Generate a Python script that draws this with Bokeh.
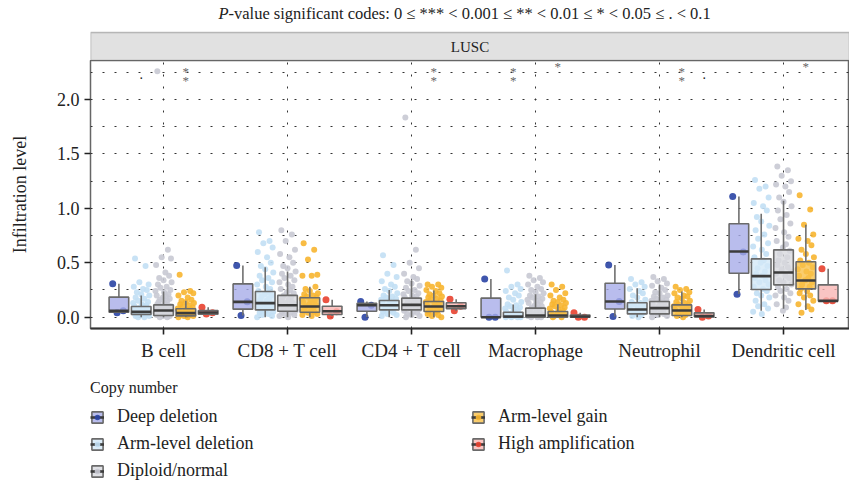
import math
from bokeh.plotting import figure
from bokeh.layouts import column
from bokeh.models import FixedTicker, Label, Legend, LegendItem, ColumnDataSource, BoxAnnotation
from bokeh.embed import file_html
from bokeh.resources import INLINE
from bokeh.core.properties import value

categories = ["B cell", "CD8 + T cell", "CD4 + T cell", "Macrophage", "Neutrophil", "Dendritic cell"]
groups = ["Deep deletion", "Arm-level deletion", "Diploid/normal", "Arm-level gain", "High amplification"]

# box statistics per category: (q1, median, q3, lower whisker, upper whisker)
box_deep = [(0.046, 0.058, 0.184, 0.040, 0.307), (0.074, 0.141, 0.306, 0.015, 0.475),
            (0.055, 0.110, 0.127, 0.000, 0.144), (0.000, 0.000, 0.175, 0.000, 0.350),
            (0.075, 0.144, 0.312, 0.006, 0.480), (0.404, 0.603, 0.858, 0.214, 1.110)]
box_armdel = [(0.025, 0.049, 0.098, 0.0, 0.200), (0.067, 0.129, 0.236, 0.0, 0.460),
              (0.067, 0.110, 0.153, 0.0, 0.250), (0.000, 0.006, 0.046, 0.0, 0.116),
              (0.030, 0.070, 0.132, 0.0, 0.267), (0.254, 0.377, 0.536, 0.060, 0.950)]
box_diploid = [(0.015, 0.061, 0.113, 0.0, 0.236), (0.055, 0.110, 0.200, 0.0, 0.420),
               (0.067, 0.113, 0.175, 0.0, 0.337), (0.000, 0.015, 0.083, 0.0, 0.210),
               (0.030, 0.083, 0.144, 0.0, 0.300), (0.297, 0.410, 0.619, 0.077, 1.070)]
box_armgain = [(0.012, 0.037, 0.077, 0.0, 0.150), (0.046, 0.098, 0.178, 0.0, 0.280),
               (0.052, 0.098, 0.144, 0.0, 0.245), (0.000, 0.015, 0.052, 0.0, 0.120),
               (0.015, 0.061, 0.113, 0.0, 0.236), (0.260, 0.337, 0.510, 0.067, 0.850)]
box_highamp = [(0.028, 0.043, 0.061, 0.030, 0.092), (0.025, 0.055, 0.100, 0.010, 0.160),
               (0.079, 0.100, 0.132, 0.058, 0.165), (0.000, 0.006, 0.020, 0.000, 0.040),
               (0.005, 0.010, 0.040, 0.000, 0.070), (0.148, 0.150, 0.297, 0.150, 0.445)]

# individual sample values per category
pts_deep = [[0.307, 0.058, 0.040], [0.475, 0.141, 0.015], [0.144, 0.110, 0.000],
            [0.350, 0.000, 0.000], [0.480, 0.144, 0.006], [1.110, 0.600, 0.210]]
pts_armdel = [
    [0.54, 0.47, 0.32, 0.30, 0.28, 0.26, 0.25, 0.23, 0.21, 0.20, 0.18, 0.17, 0.15, 0.14, 0.13, 0.12, 0.11, 0.10, 0.10,
     0.09, 0.08, 0.08, 0.07, 0.07, 0.06, 0.06, 0.05, 0.05, 0.04, 0.04, 0.03, 0.03, 0.02, 0.02, 0.01, 0.01, 0.0, 0.0],
    [0.78, 0.70, 0.68, 0.64, 0.60, 0.55, 0.50, 0.47, 0.44, 0.41, 0.38, 0.36, 0.34, 0.32, 0.30, 0.28, 0.26, 0.24, 0.23,
     0.21, 0.20, 0.19, 0.17, 0.16, 0.15, 0.14, 0.13, 0.12, 0.11, 0.10, 0.09, 0.08, 0.07, 0.06, 0.05, 0.04, 0.03, 0.02, 0.01, 0.0],
    [0.57, 0.48, 0.40, 0.37, 0.33, 0.30, 0.28, 0.26, 0.24, 0.22, 0.20, 0.19, 0.18, 0.17, 0.16, 0.15, 0.14, 0.13, 0.12,
     0.11, 0.10, 0.09, 0.08, 0.07, 0.06, 0.05, 0.04, 0.03, 0.02, 0.01],
    [0.43, 0.30, 0.28, 0.26, 0.24, 0.22, 0.20, 0.18, 0.16, 0.14, 0.12, 0.11, 0.10, 0.09, 0.08, 0.07, 0.06, 0.05, 0.04,
     0.04, 0.03, 0.03, 0.02, 0.02, 0.01, 0.01, 0.0, 0.0, 0.0, 0.0],
    [0.35, 0.32, 0.30, 0.28, 0.26, 0.24, 0.22, 0.20, 0.18, 0.16, 0.14, 0.13, 0.12, 0.11, 0.10, 0.09, 0.08, 0.07, 0.06,
     0.05, 0.04, 0.03, 0.02, 0.01, 0.0],
    [1.26, 1.20, 1.18, 1.10, 1.05, 1.02, 0.98, 0.92, 0.88, 0.84, 0.80, 0.76, 0.72, 0.68, 0.65, 0.62, 0.58, 0.55, 0.52,
     0.50, 0.47, 0.45, 0.42, 0.40, 0.38, 0.36, 0.34, 0.32, 0.30, 0.28, 0.26, 0.24, 0.22, 0.20, 0.18, 0.15, 0.12, 0.10, 0.08, 0.05, 0.03],
]
pts_diploid = [
    [2.26, 0.62, 0.55, 0.54, 0.48, 0.41, 0.38, 0.36, 0.34, 0.32, 0.30, 0.28, 0.27, 0.25, 0.24, 0.23, 0.21, 0.20, 0.19,
     0.18, 0.17, 0.16, 0.15, 0.14, 0.13, 0.12, 0.11, 0.10, 0.10, 0.09, 0.08, 0.08, 0.07, 0.07, 0.06, 0.06, 0.05, 0.05,
     0.04, 0.04, 0.03, 0.03, 0.02, 0.02, 0.01, 0.01, 0.0, 0.0],
    [0.80, 0.76, 0.70, 0.62, 0.58, 0.55, 0.50, 0.47, 0.45, 0.42, 0.40, 0.38, 0.36, 0.34, 0.32, 0.30, 0.28, 0.26, 0.25,
     0.23, 0.22, 0.20, 0.19, 0.18, 0.16, 0.15, 0.14, 0.13, 0.12, 0.11, 0.10, 0.09, 0.08, 0.07, 0.06, 0.05, 0.04, 0.03, 0.02, 0.01, 0.0],
    [1.835, 0.62, 0.50, 0.45, 0.40, 0.37, 0.35, 0.33, 0.31, 0.29, 0.27, 0.25, 0.24, 0.22, 0.21, 0.20, 0.19, 0.18, 0.17,
     0.16, 0.15, 0.14, 0.13, 0.12, 0.11, 0.10, 0.09, 0.08, 0.07, 0.06, 0.05, 0.04, 0.03, 0.02, 0.01, 0.0],
    [0.38, 0.36, 0.34, 0.32, 0.30, 0.28, 0.26, 0.25, 0.23, 0.22, 0.20, 0.19, 0.18, 0.17, 0.16, 0.15, 0.14, 0.13, 0.12,
     0.11, 0.10, 0.09, 0.08, 0.07, 0.06, 0.05, 0.04, 0.03, 0.02, 0.01, 0.0, 0.0, 0.0],
    [0.37, 0.35, 0.33, 0.31, 0.29, 0.27, 0.25, 0.23, 0.22, 0.20, 0.19, 0.18, 0.17, 0.16, 0.15, 0.14, 0.13, 0.12, 0.11,
     0.10, 0.09, 0.08, 0.07, 0.06, 0.05, 0.04, 0.03, 0.02, 0.01, 0.0],
    [1.385, 1.35, 1.30, 1.25, 1.22, 1.20, 1.15, 1.10, 1.06, 1.02, 0.98, 0.94, 0.90, 0.86, 0.82, 0.78, 0.74, 0.70, 0.67,
     0.64, 0.61, 0.58, 0.55, 0.52, 0.50, 0.48, 0.46, 0.44, 0.42, 0.40, 0.38, 0.36, 0.34, 0.32, 0.30, 0.28, 0.26, 0.24,
     0.22, 0.20, 0.18, 0.15, 0.12, 0.09, 0.06],
]
pts_armgain = [
    [0.39, 0.24, 0.23, 0.22, 0.20, 0.18, 0.16, 0.15, 0.14, 0.13, 0.12, 0.11, 0.10, 0.09, 0.08, 0.07, 0.07, 0.06, 0.06,
     0.05, 0.05, 0.04, 0.04, 0.03, 0.03, 0.02, 0.02, 0.01, 0.01, 0.0, 0.0],
    [0.68, 0.62, 0.53, 0.39, 0.38, 0.38, 0.28, 0.26, 0.24, 0.22, 0.21, 0.20, 0.19, 0.18, 0.17, 0.16, 0.15, 0.14, 0.13,
     0.12, 0.11, 0.10, 0.09, 0.08, 0.07, 0.06, 0.05, 0.04, 0.03, 0.02, 0.01],
    [0.30, 0.30, 0.28, 0.27, 0.25, 0.24, 0.22, 0.21, 0.20, 0.19, 0.18, 0.17, 0.16, 0.15, 0.14, 0.13, 0.12, 0.11, 0.10,
     0.09, 0.08, 0.07, 0.06, 0.05, 0.04, 0.03, 0.02, 0.01, 0.0],
    [0.30, 0.28, 0.25, 0.22, 0.20, 0.18, 0.16, 0.15, 0.14, 0.13, 0.12, 0.11, 0.10, 0.09, 0.08, 0.07, 0.06, 0.05, 0.04,
     0.03, 0.02, 0.01, 0.0, 0.0],
    [0.28, 0.26, 0.25, 0.23, 0.22, 0.20, 0.19, 0.18, 0.17, 0.15, 0.14, 0.13, 0.12, 0.11, 0.10, 0.09, 0.08, 0.07, 0.06,
     0.05, 0.04, 0.03, 0.02, 0.01, 0.0],
    [1.12, 0.99, 0.85, 0.76, 0.72, 0.70, 0.66, 0.62, 0.58, 0.55, 0.52, 0.50, 0.48, 0.46, 0.44, 0.42, 0.40, 0.38, 0.36,
     0.34, 0.32, 0.30, 0.28, 0.26, 0.24, 0.22, 0.20, 0.18, 0.15, 0.12, 0.10, 0.07, 0.04],
]
pts_highamp = [[0.092, 0.040, 0.030], [0.160, 0.050, 0.010], [0.165, 0.100, 0.058],
               [0.040, 0.000, 0.000], [0.070, 0.010, 0.000], [0.445, 0.150, 0.150]]

# significance codes (category, group, code)
sig_category = ["B cell", "B cell", "CD4 + T cell", "Macrophage", "Macrophage", "Neutrophil", "Neutrophil", "Dendritic cell"]
sig_group = ["Arm-level deletion", "Arm-level gain", "Arm-level gain", "Arm-level deletion", "Arm-level gain",
             "Arm-level gain", "High amplification", "Arm-level gain"]
sig_code = [".", "**", "**", "**", "*", "**", ".", "*"]

# ---------------- styling ----------------
FONT = "Liberation Serif"
box_stats = [box_deep, box_armdel, box_diploid, box_armgain, box_highamp]
points = [pts_deep, pts_armdel, pts_diploid, pts_armgain, pts_highamp]
fill_colors = ["#a7ace9", "#d3e9f8", "#d8d9df", "#f8c04a", "#f9b7b4"]
point_colors = ["#2a44a4", "#c2dff4", "#c8c9d3", "#f7b530", "#e8412f"]
point_sizes = [7, 6, 6, 6, 7]
dodge = [-0.36, -0.18, 0.0, 0.18, 0.36]
half_w = 0.079
JITTER = [-0.05, 0.035, -0.015, 0.06, -0.06, 0.015, 0.045, -0.035, 0.0, 0.065, -0.045, 0.025,
          -0.025, 0.055, -0.065, 0.005, 0.04, -0.055, 0.02, -0.005, 0.05, -0.03, 0.03, -0.04, 0.01]
X0, X1 = 0.411, 6.532
BOX_LINE = dict(line_color="#6a6a6a", line_width=1.6)
MED_LINE = dict(line_color="#3c3c3c", line_width=2.6)
W = 849

# ---- header: page title + strip ----
h = figure(width=W, height=60, x_range=(X0, X1), y_range=(0, 60), output_backend="svg",
           toolbar_location=None, x_axis_location=None, y_axis_location=None,
           min_border_left=90, min_border_right=0, min_border_top=0, min_border_bottom=0)
h.grid.visible = False
h.background_fill_color = "white"
h.border_fill_color = "white"
h.outline_line_color = None
h.add_layout(BoxAnnotation(bottom=0, top=28, fill_color="#e1e1e1", fill_alpha=1.0,
                           line_color="#333333", line_width=1.5))
h.add_layout(Label(x=(X0 + X1) / 2, y=14, text="LUSC", text_font=FONT, text_font_size="15px",
                   text_color="#222222", text_align="center", text_baseline="middle"))
h.add_layout(Label(x=128, y=47, x_units="screen", y_units="data", text="P", text_font=FONT,
                   text_font_style="italic", text_font_size="16.5px", text_color="#222222",
                   text_align="left", text_baseline="middle"))
h.add_layout(Label(x=138, y=47, x_units="screen", y_units="data",
                   text="-value significant codes: 0 \u2264 *** < 0.001 \u2264 ** < 0.01 \u2264 * < 0.05 \u2264 . < 0.1",
                   text_font=FONT, text_font_size="16.5px", text_color="#222222",
                   text_align="left", text_baseline="middle"))

# ---- main panel ----
p = figure(width=W, height=305, x_range=(X0, X1), y_range=(-0.104, 2.359),
           output_backend="svg", toolbar_location=None,
           min_border_left=90, min_border_right=0, min_border_top=0, min_border_bottom=37)
p.background_fill_color = "white"
p.border_fill_color = "white"
p.outline_line_color = "#666666"
p.outline_line_width = 1.5

cat_pos = {c: i + 1 for i, c in enumerate(categories)}

# points first (under the boxes)
for g in range(len(groups)):
    xs, ys = [], []
    for ci, vals in enumerate(points[g]):
        for k, v in enumerate(vals):
            xs.append(ci + 1 + dodge[g] + JITTER[k % len(JITTER)])
            ys.append(v)
    p.scatter(xs, ys, size=point_sizes[g], color=point_colors[g], alpha=0.9, line_alpha=0)

for g in range(len(groups)):
    st = box_stats[g]
    x = [ci + 1 + dodge[g] for ci in range(len(categories))]
    src = ColumnDataSource(dict(
        x=x, left=[v - half_w for v in x], right=[v + half_w for v in x],
        q1=[s[0] for s in st], med=[s[1] for s in st], q3=[s[2] for s in st],
        lo=[s[3] for s in st], hi=[s[4] for s in st]))
    p.segment("x", "q3", "x", "hi", source=src, line_color="#707070", line_width=1.6)
    p.segment("x", "lo", "x", "q1", source=src, line_color="#707070", line_width=1.6)
    p.quad(left="left", right="right", bottom="q1", top="q3", source=src,
           fill_color=fill_colors[g], fill_alpha=0.8, **BOX_LINE)
    p.segment("left", "med", "right", "med", source=src, **MED_LINE)

# significance marks
star_x, star_y, star_t = [], [], []
dot_x, dot_y = [], []
for c, g, code in zip(sig_category, sig_group, sig_code):
    xx = cat_pos[c] + dodge[groups.index(g)]
    if code == ".":
        dot_x.append(xx); dot_y.append(2.232)
    elif code == "*":
        star_x.append(xx); star_y.append(2.30); star_t.append("*")
    else:
        for yy in (2.258, 2.175):
            star_x.append(xx); star_y.append(yy); star_t.append("*")
p.text(star_x, star_y, text=star_t, text_font=value(FONT), text_font_size="13px",
       text_color="#666666", text_align="center", text_baseline="middle")
p.text(dot_x, dot_y, text=["."] * len(dot_x), text_font=value(FONT), text_font_size="14px",
       text_color="#222222", text_align="center", text_baseline="alphabetic")

# axes
xt = FixedTicker(ticks=[i + 1 for i in range(len(categories))])
p.xaxis.ticker = xt
p.xaxis.major_label_overrides = {i + 1: c for i, c in enumerate(categories)}
yt = FixedTicker(ticks=[0, 0.5, 1.0, 1.5, 2.0], minor_ticks=[0.25, 0.75, 1.25, 1.75, 2.25])
p.yaxis.ticker = yt
p.yaxis.major_label_overrides = {0: "0.0", 0.5: "0.5", 1: "1.0", 1.5: "1.5", 2: "2.0"}
for ax in (p.xaxis[0], p.yaxis[0]):
    ax.major_label_text_font = FONT
    ax.major_label_text_color = "#222222"
    ax.major_tick_line_color = "#222222"
    ax.major_tick_line_width = 1.6
    ax.major_tick_out = 6
    ax.major_tick_in = 0
    ax.minor_tick_line_color = None
    ax.major_label_standoff = 5
p.xaxis.major_label_text_font_size = "19px"
p.yaxis.major_label_text_font_size = "18px"
p.xaxis.axis_line_color = "#333333"
p.xaxis.axis_line_width = 2
p.yaxis.axis_line_color = None
p.yaxis.axis_label = "Infiltration level"
p.yaxis.axis_label_text_font = FONT
p.yaxis.axis_label_text_font_size = "18px"
p.yaxis.axis_label_text_font_style = "normal"
p.yaxis.axis_label_text_color = "#222222"
p.yaxis.axis_label_standoff = 24

p.xgrid.ticker = xt
p.ygrid.ticker = yt
for gr in (p.xgrid[0], p.ygrid[0]):
    gr.grid_line_color = "#333333"
    gr.grid_line_dash = "2 10"
    gr.grid_line_width = 1
p.ygrid.minor_grid_line_color = "#333333"
p.ygrid.minor_grid_line_dash = "2 10"
p.ygrid.minor_grid_line_width = 1

# ---- legend strip ----
q = figure(width=W, height=119, x_range=(0, 1), y_range=(0, 1), output_backend="svg",
           toolbar_location=None, x_axis_location=None, y_axis_location=None,
           min_border_left=90, min_border_right=0, min_border_top=14, min_border_bottom=0)
q.grid.visible = False
q.outline_line_color = None
q.background_fill_color = "white"
q.border_fill_color = "white"
items = []
for g in range(len(groups)):
    rb = q.quad(left=[-5], right=[-4], bottom=[-5], top=[-4], fill_color=fill_colors[g], fill_alpha=0.8, **BOX_LINE)
    rm = q.segment(x0=[-5], y0=[-5], x1=[-4], y1=[-5], **MED_LINE)
    rp = q.scatter(x=[-5], y=[-5], size=point_sizes[g], color=point_colors[g], alpha=0.9, line_alpha=0)
    items.append(LegendItem(label=groups[g], renderers=[rb, rm, rp]))
legend = Legend(items=items, location="top_left", orientation="vertical", nrows=3,
                title="Copy number", title_text_font=FONT, title_text_font_size="16px",
                title_text_font_style="normal", title_text_color="#222222", title_standoff=9,
                label_text_font=FONT, label_text_font_size="18px", label_text_color="#222222",
                glyph_width=14, glyph_height=14, label_standoff=13, spacing=6, padding=0, margin=0,
                label_width=348, border_line_color=None, background_fill_alpha=0)
q.add_layout(legend)

layout = column(h, p, q, spacing=0)
open("out.html", "w").write(file_html(layout, INLINE))
